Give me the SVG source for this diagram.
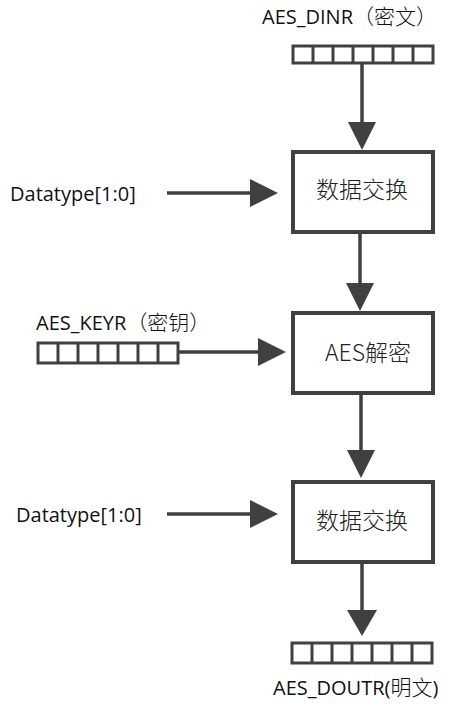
<svg xmlns="http://www.w3.org/2000/svg" width="452" height="704" viewBox="0 0 452 704">
<defs>
<style>
.box{fill:#fff;stroke:#404040;stroke-width:4}
.reg{fill:#fff;stroke:#404040;stroke-width:3}
.line{stroke:#404040;stroke-width:3.5;fill:none}
.head{fill:#404040}
.t{font-family:"Open Sans","Liberation Sans","Noto Sans CJK SC",sans-serif;font-size:20px;fill:#111}
.k{font-family:"Noto Sans CJK SC",sans-serif;font-size:21px;font-weight:300}
.c{font-family:"Noto Sans CJK SC",sans-serif;font-size:23px;fill:#222;font-weight:300}
</style>
<g id="cells">
<path d="M20,0V20M40,0V20M60,0V20M80,0V20M100,0V20M120,0V20" stroke="#404040" stroke-width="3"/>
</g>
</defs>
<g id="connectors">
<line class="line" x1="362" y1="64" x2="362" y2="124"/>
<polygon class="head" points="348,122 376,122 362,150"/>
<line class="line" x1="167" y1="193" x2="252" y2="193"/>
<polygon class="head" points="250,179 250,207 278,193"/>
<line class="line" x1="360" y1="233" x2="360" y2="285"/>
<polygon class="head" points="346,283 374,283 360,311"/>
<line class="line" x1="178" y1="352" x2="260" y2="352"/>
<polygon class="head" points="258,338 258,366 286,352"/>
<line class="line" x1="361" y1="394" x2="361" y2="452"/>
<polygon class="head" points="347,450 375,450 361,478"/>
<line class="line" x1="167" y1="514" x2="252" y2="514"/>
<polygon class="head" points="250,500 250,528 278,514"/>
<line class="line" x1="362" y1="563" x2="362" y2="612"/>
<polygon class="head" points="347,610 377,610 362,636"/>
</g>
<g id="dinr">
<text class="t" x="262" y="24">AES_DINR<tspan class="k">（密文）</tspan></text>
<rect class="reg" x="293" y="46" width="140" height="17"/>
<use href="#cells" transform="translate(293,46) scale(1,0.85)"/>
</g>
<g id="dt1"><text class="t" x="10" y="201">Datatype[1:0]</text></g>
<g id="swap1">
<rect class="box" x="293" y="152" width="140" height="80"/>
<text class="c" x="362" y="198" text-anchor="middle">数据交换</text>
</g>
<g id="keyr">
<text class="t" x="36" y="330">AES_KEYR<tspan class="k">（密钥）</tspan></text>
<rect class="reg" x="38" y="343" width="140" height="20"/>
<use href="#cells" transform="translate(38,343)"/>
</g>
<g id="aes">
<rect class="box" x="293" y="313" width="140" height="80"/>
<text class="c" x="368" y="361" text-anchor="middle">AES解密</text>
</g>
<g id="dt2"><text class="t" x="16" y="522">Datatype[1:0]</text></g>
<g id="swap2">
<rect class="box" x="293" y="482" width="140" height="80"/>
<text class="c" x="362" y="529" text-anchor="middle">数据交换</text>
</g>
<g id="doutr">
<rect class="reg" x="292" y="643" width="140" height="20"/>
<use href="#cells" transform="translate(292,643)"/>
<text class="t" x="273" y="695">AES_DOUTR(<tspan class="k">明文</tspan>)</text>
</g>
</svg>
